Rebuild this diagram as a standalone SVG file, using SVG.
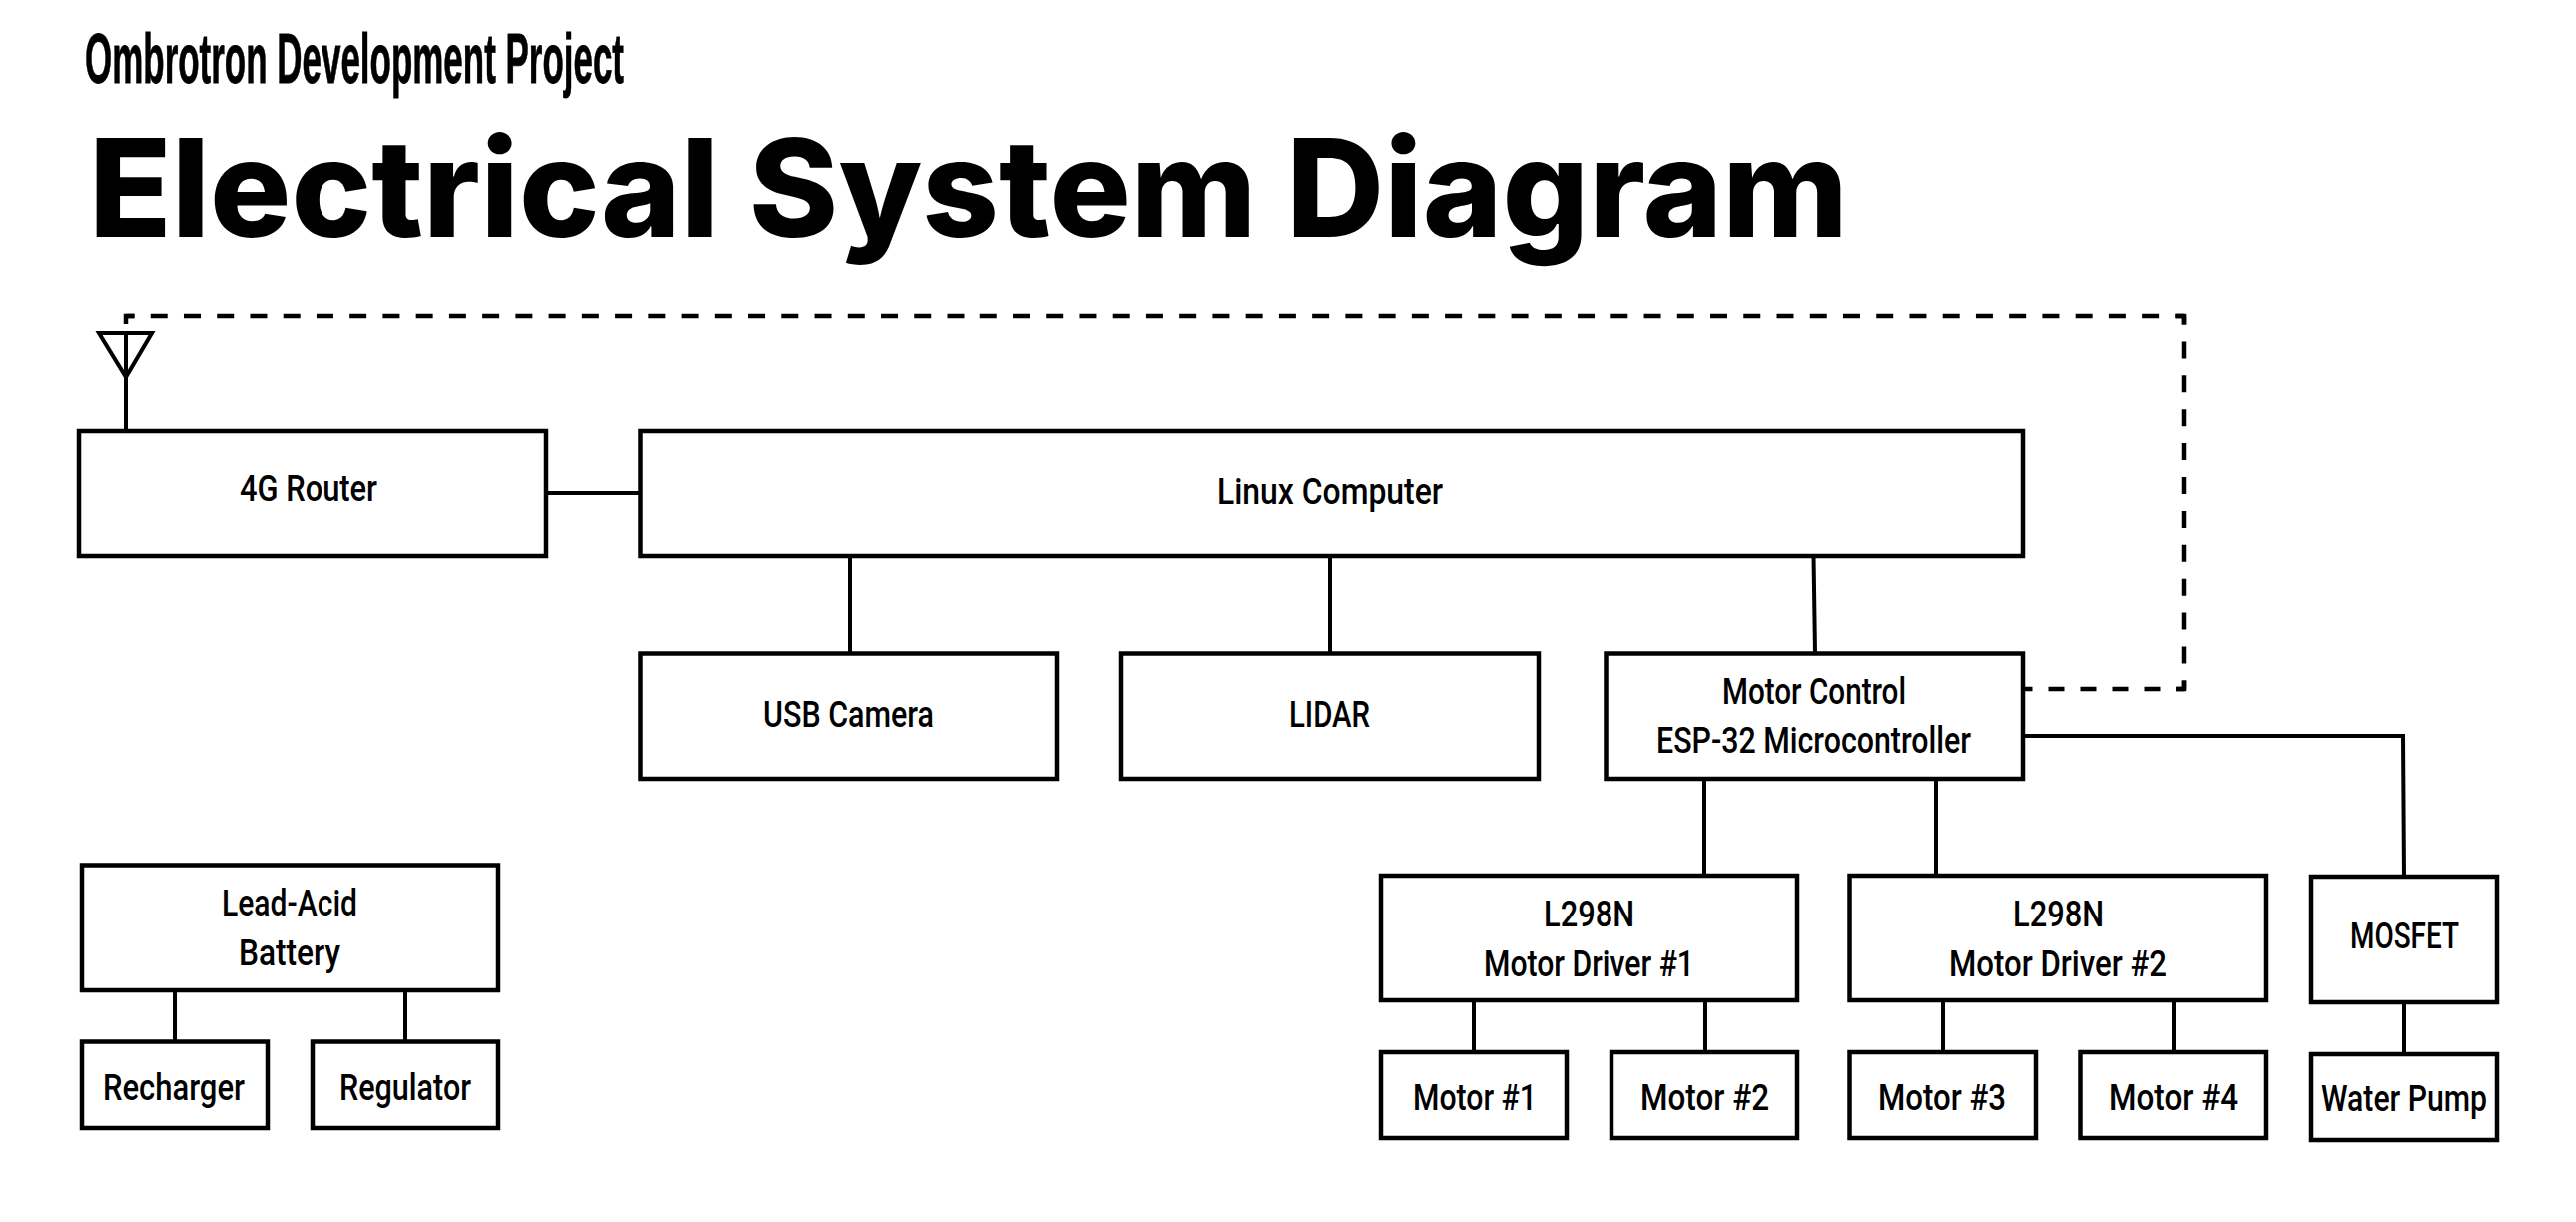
<svg xmlns="http://www.w3.org/2000/svg" width="2580" height="1224" viewBox="0 0 2580 1224">
<style>
.b{fill:#fff;stroke:#000;stroke-width:4.5}
.c{fill:none;stroke:#000;stroke-width:4}
.d{fill:none;stroke:#000;stroke-width:4.500;stroke-dashoffset:8.500}
.t{font-family:"Roboto","Liberation Sans",sans-serif;font-weight:500;font-size:37px;fill:#000}
.h1{font-family:"Inter","Liberation Sans",sans-serif;font-weight:800;font-size:136px;fill:#000}
.h2{font-family:"Liberation Sans",sans-serif;font-weight:700;font-size:71px;fill:#000;stroke:#000;stroke-width:.8}
</style>
<rect width="2580" height="1224" fill="#fff"/>
<text class="h2" x="85" y="83" textLength="540" lengthAdjust="spacingAndGlyphs">Ombrotron Development Project</text>
<text class="h1" x="89" y="237" textLength="1762" lengthAdjust="spacingAndGlyphs">Electrical System Diagram</text>
<g id="connectors">
<path class="d" stroke-dasharray="17 16.240" d="M126 317H2187"/>
<path class="d" stroke-dasharray="17 16.900" d="M2187 317V690"/>
<path class="d" stroke-dasharray="16 16" stroke-dashoffset="8" d="M2187 690H2026"/>
<path class="d" style="stroke-dashoffset:0" d="M126 325V317H134.500M2178.500 317H2187V325.500M2187 681.500V690H2179"/>
<path class="c" d="M126 432V334M99 334H152L126 378Z"/>
<path class="c" d="M548 494H641M851 557V654M1332 557V654M1816.500 557L1818 654M1707 780V877M1939 780V877M2026 737H2407L2408 878M1476 1002V1054M1708 1002V1054M1946 1002V1054M2177 1002V1054M2408 1004V1056M175 992V1043M406 992V1043"/>
</g>
<g id="router"><rect class="b" x="79" y="432" width="468" height="125"/><text class="t" x="240" y="502" textLength="138" lengthAdjust="spacingAndGlyphs">4G Router</text></g>
<g id="linux"><rect class="b" x="641.500" y="432" width="1384.500" height="125"/><text class="t" x="1219" y="505" textLength="226" lengthAdjust="spacingAndGlyphs">Linux Computer</text></g>
<g id="usb"><rect class="b" x="641.500" y="654.500" width="417.500" height="125.500"/><text class="t" x="764" y="728" textLength="171" lengthAdjust="spacingAndGlyphs">USB Camera</text></g>
<g id="lidar"><rect class="b" x="1123" y="654.500" width="418" height="125.500"/><text class="t" x="1291" y="728" textLength="81" lengthAdjust="spacingAndGlyphs">LIDAR</text></g>
<g id="esp"><rect class="b" x="1608.500" y="654.500" width="417.500" height="125.500"/><text class="t" x="1725" y="705" textLength="184" lengthAdjust="spacingAndGlyphs">Motor Control</text><text class="t" x="1659" y="754" textLength="315" lengthAdjust="spacingAndGlyphs">ESP-32 Microcontroller</text></g>
<g id="driver1"><rect class="b" x="1383" y="877" width="417" height="125"/><text class="t" x="1546" y="928" textLength="91" lengthAdjust="spacingAndGlyphs">L298N</text><text class="t" x="1486" y="978" textLength="211" lengthAdjust="spacingAndGlyphs">Motor Driver #1</text></g>
<g id="driver2"><rect class="b" x="1852.500" y="877" width="417.500" height="125"/><text class="t" x="2016" y="928" textLength="91" lengthAdjust="spacingAndGlyphs">L298N</text><text class="t" x="1952" y="978" textLength="218" lengthAdjust="spacingAndGlyphs">Motor Driver #2</text></g>
<g id="mosfet"><rect class="b" x="2315" y="878" width="186" height="126"/><text class="t" x="2354" y="950" textLength="109" lengthAdjust="spacingAndGlyphs">MOSFET</text></g>
<g id="motor1"><rect class="b" x="1383" y="1054" width="186" height="86"/><text class="t" x="1415" y="1112" textLength="124" lengthAdjust="spacingAndGlyphs">Motor #1</text></g>
<g id="motor2"><rect class="b" x="1614" y="1054" width="186" height="86"/><text class="t" x="1643" y="1112" textLength="129" lengthAdjust="spacingAndGlyphs">Motor #2</text></g>
<g id="motor3"><rect class="b" x="1852.500" y="1054" width="186.500" height="86"/><text class="t" x="1881" y="1112" textLength="128" lengthAdjust="spacingAndGlyphs">Motor #3</text></g>
<g id="motor4"><rect class="b" x="2083.500" y="1054" width="186.500" height="86"/><text class="t" x="2112" y="1112" textLength="129" lengthAdjust="spacingAndGlyphs">Motor #4</text></g>
<g id="pump"><rect class="b" x="2315" y="1056" width="186" height="86"/><text class="t" x="2325" y="1113" textLength="166" lengthAdjust="spacingAndGlyphs">Water Pump</text></g>
<g id="battery"><rect class="b" x="82" y="866.500" width="417" height="125.500"/><text class="t" x="222" y="917" textLength="136" lengthAdjust="spacingAndGlyphs">Lead-Acid</text><text class="t" x="239" y="967" textLength="102" lengthAdjust="spacingAndGlyphs">Battery</text></g>
<g id="recharger"><rect class="b" x="82" y="1043.500" width="186" height="86.500"/><text class="t" x="103" y="1102" textLength="142" lengthAdjust="spacingAndGlyphs">Recharger</text></g>
<g id="regulator"><rect class="b" x="313" y="1043.500" width="186" height="86.500"/><text class="t" x="340" y="1102" textLength="132" lengthAdjust="spacingAndGlyphs">Regulator</text></g>
</svg>
